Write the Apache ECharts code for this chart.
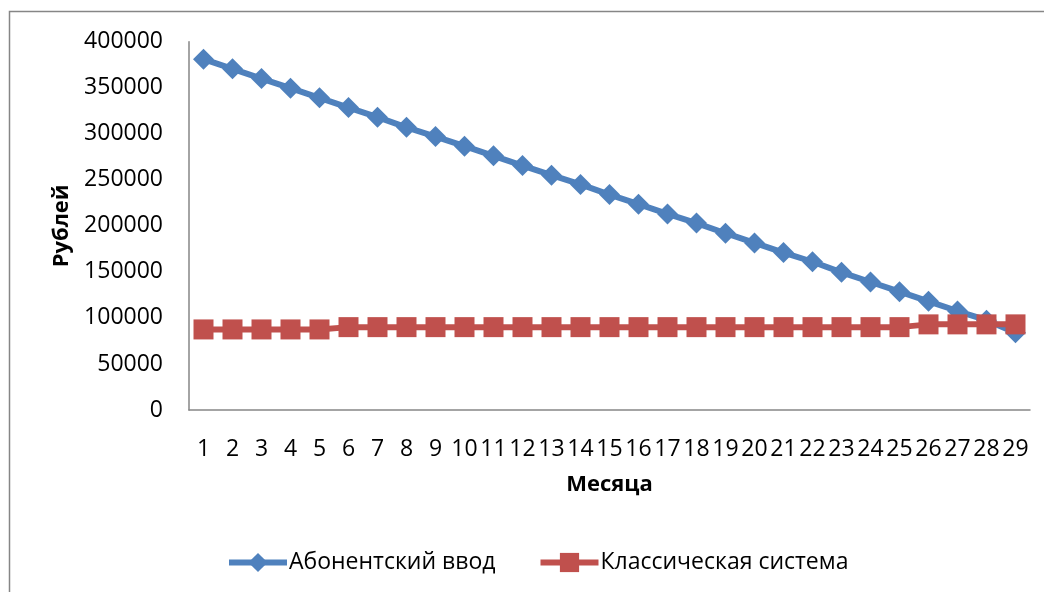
<!DOCTYPE html>
<html>
<head>
<meta charset="utf-8">
<script src="https://cdn.jsdelivr.net/npm/echarts@6/dist/echarts.min.js"></script>
<style>
  html, body { margin: 0; padding: 0; background: #fff; }
  #chart { width: 1044px; height: 592px; }
</style>
</head>
<body>
<div id="chart"></div>
<script>
// Months 1..29
const months = ['1','2','3','4','5','6','7','8','9','10','11','12','13','14','15','16','17','18','19','20','21','22','23','24','25','26','27','28','29'];

// Абонентский ввод, рублей
const subscriberInput = [381000, 370500, 360000, 349500, 339000, 328500, 318000, 307000, 297000, 286500,
  276000, 265500, 255000, 245000, 234000, 223500, 213000, 203000, 192000, 181500,
  171000, 161000, 149500, 139000, 128500, 118000, 107500, 97500, 84000];

// Классическая система, рублей
const classicSystem = [87500, 87500, 87500, 87500, 87500, 90000, 90000, 90000, 90000, 90000,
  90000, 90000, 90000, 90000, 90000, 90000, 90000, 90000, 90000, 90000,
  90000, 90000, 90000, 90000, 90000, 93000, 93000, 93000, 93000];

const seriesNames = ['Абонентский ввод', 'Классическая система'];

const FONT = '"Open Sans", "Noto Sans", sans-serif';
const axisGray = '#868686';

const chart = echarts.init(document.getElementById('chart'), null, { renderer: 'canvas' });
chart.setOption({
  animation: false,
  backgroundColor: '#fff',
  graphic: [{
    type: 'rect',
    shape: { x: 9.5, y: 11.5, width: 1100, height: 700 },
    style: { fill: 'none', stroke: axisGray, lineWidth: 1.5 },
    silent: true
  }],
  grid: { left: 189, right: 14, top: 41.7, bottom: 182 },
  legend: {
    left: 221,
    top: 546,
    itemWidth: 58,
    itemHeight: 24,
    itemGap: 42,
    lineStyle: { width: 6 },
    textStyle: { fontFamily: FONT, fontSize: 23, color: '#000', padding: [0, 0, 0, -3] },
    data: seriesNames
  },
  xAxis: {
    type: 'category',
    data: months,
    boundaryGap: true,
    name: 'Месяца',
    nameLocation: 'middle',
    nameGap: 64,
    nameTextStyle: { fontFamily: FONT, fontSize: 22, fontWeight: 'bold', color: '#000' },
    axisLine: { lineStyle: { color: axisGray, width: 1.5 } },
    axisTick: { show: false },
    axisLabel: { interval: 0, margin: 28, fontFamily: FONT, fontSize: 23, color: '#000' },
    splitLine: { show: false }
  },
  yAxis: {
    type: 'value',
    min: 0,
    max: 400000,
    interval: 50000,
    name: 'Рублей',
    nameLocation: 'middle',
    nameRotate: 90,
    nameGap: 114,
    nameTextStyle: { fontFamily: FONT, fontSize: 22, fontWeight: 'bold', color: '#000' },
    axisLine: { show: true, lineStyle: { color: axisGray, width: 1.5 } },
    axisTick: { show: false },
    axisLabel: { margin: 26, fontFamily: FONT, fontSize: 23, color: '#000', formatter: v => String(v) },
    splitLine: { show: false }
  },
  series: [
    {
      name: seriesNames[0],
      type: 'line',
      data: subscriberInput,
      symbol: 'diamond',
      symbolSize: 21,
      lineStyle: { color: '#4F81BD', width: 6 },
      itemStyle: { color: '#4F81BD' },
      z: 2
    },
    {
      name: seriesNames[1],
      type: 'line',
      data: classicSystem,
      symbol: 'rect',
      symbolSize: 20,
      lineStyle: { color: '#C0504D', width: 6 },
      itemStyle: { color: '#C0504D' },
      z: 3
    }
  ]
});
</script>
</body>
</html>
